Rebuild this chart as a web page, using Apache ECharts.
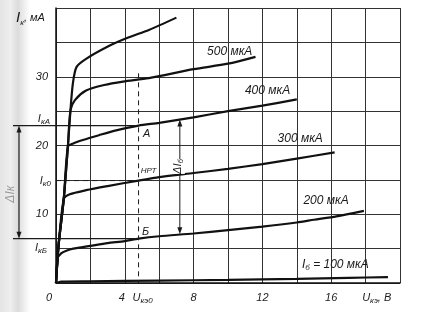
<!DOCTYPE html>
<html><head><meta charset="utf-8">
<script src="https://cdn.jsdelivr.net/npm/echarts@6/dist/echarts.min.js"></script>
<style>html,body{margin:0;padding:0;background:#fff}#c{width:429px;height:312px}</style>
</head><body><div id="c"></div>
<script>
// ---- data (U_кэ in V, I_к in mA) ----
const xTickLabels = [0, 4, 8, 12, 16];
const yTickLabels = [10, 20, 30];
const ib100 = [[0,0],[0.3,0.2],[2,0.25],[6,0.35],[10,0.45],[14,0.6],[17,0.75],[19.3,0.85]];
const ib200 = [[0,0],[0.1,3.6],[0.3,4.3],[0.6,4.7],[1,5.0],[2,5.4],[3,5.8],[4,6.1],[4.8,6.45],[6,6.8],[8,7.2],[10,7.7],[12,8.2],[14,8.8],[15,9.2],[16.3,9.7],[17.9,10.5]];
const ib300 = [[0,0],[0.15,5.5],[0.45,12.2],[0.8,12.9],[1.75,13.5],[3,14.1],[4.8,14.9],[6,15.4],[8,16],[10,16.6],[12,17.3],[14,18.1],[16.2,19.0]];
const ib400 = [[0,0],[0.15,5.5],[0.45,12.2],[0.69,19.8],[1,20.3],[1.56,20.8],[2.5,21.5],[3.5,22.2],[4.8,22.9],[6,23.3],[8,24.1],[10,25.0],[12,25.8],[14,26.7]];
const ib500 = [[0,0],[0.15,5.5],[0.45,12.2],[0.69,19.8],[0.84,25.1],[1.1,26.6],[1.75,28],[2.8,28.8],[3.9,29.3],[5.4,29.8],[8,31.1],[10,31.9],[11.6,32.9]];
const ib600 = [[0,0],[0.15,5.5],[0.45,12.2],[0.69,19.8],[0.84,25.1],[0.98,29],[1.19,31.4],[1.75,32.6],[3.1,34.5],[4.2,35.7],[5.4,36.8],[7,38.6]];
const curveLabels = ['200 мкА','300 мкА','400 мкА','500 мкА'];
// operating point and swing
const Uk0 = 4.8, IkA = 22.9, Ik0 = 14.9, IkB = 6.45;
const dIbU = 7.2, dIbTop = 23.8, dIbBot = 7.1;

const FONT = '"Liberation Sans", "DejaVu Sans", sans-serif';
const chart = echarts.init(document.getElementById('c'), null, {renderer:'canvas'});
const lineSeries = (d) => ({type:'line', data:d, symbol:'none', smooth:0.25, lineStyle:{color:'#111', width:2.2}, z:5, silent:true, animation:false});
chart.setOption({
  animation:false,
  backgroundColor:'#fff',
  grid:{left:56, top:8, width:344, height:275},
  xAxis:{type:'value', min:0, max:20, interval:2,
    axisLine:{show:true, lineStyle:{color:'#111', width:1.5}},
    axisTick:{show:false},
    splitLine:{show:true, lineStyle:{color:'#333', width:1}},
    axisLabel:{margin:9, color:'#222', fontStyle:'italic', fontFamily:FONT, fontSize:11,
      formatter:v => xTickLabels.includes(v) ? (v===0 ? '{z|0}' : (v===4 ? '{f|4}' : String(v))) : '',
      rich:{z:{padding:[0,14,0,0], fontStyle:'italic', fontFamily:FONT, fontSize:11, color:'#222'},
            f:{padding:[0,6,0,0], fontStyle:'italic', fontFamily:FONT, fontSize:11, color:'#222'}}}},
  yAxis:{type:'value', min:0, max:40, interval:5,
    axisLine:{show:true, lineStyle:{color:'#111', width:1.5}},
    axisTick:{show:false},
    splitLine:{show:true, lineStyle:{color:'#333', width:1}},
    axisLabel:{margin:8, color:'#222', fontStyle:'italic', fontFamily:FONT, fontSize:11,
      formatter:v => yTickLabels.includes(v) ? String(v) : ''}},
  series:[lineSeries(ib100), lineSeries(ib200), lineSeries(ib300), lineSeries(ib400), lineSeries(ib500), lineSeries(ib600)]
});

const P = (u, i) => chart.convertToPixel({gridIndex:0}, [u, i]);
const g = [];
const txt = (x, y, rich, opts={}) => ({type:'text', z:20, silent:true, rotation:opts.rot||0, x:x, y:y,
  style:{text:rich, x:0, y:0, align:opts.align||'center', verticalAlign:'middle', textAlign:opts.align||'center', textVerticalAlign:'middle',
    fill:opts.fill||'#1a1a1a', backgroundColor:opts.bg, font:'italic '+(opts.size||11)+'px '+FONT,
    rich:{m:{fontSize:opts.size||11, fontStyle:'italic', fontFamily:FONT, fill:opts.fill||'#1a1a1a', lineHeight:14},
          s:{fontSize:8, fontStyle:'italic', fontFamily:FONT, fill:opts.fill||'#1a1a1a', verticalAlign:'bottom', lineHeight:14, padding:[4,0,0,0]}}}});
const seg = (a, b, w, dash) => ({type:'line', z:15, silent:true, shape:{x1:a[0], y1:a[1], x2:b[0], y2:b[1]}, style:{stroke:'#1a1a1a', lineWidth:w, lineDash:dash||null}});
const arrow = (x, y, up) => ({type:'polygon', z:16, silent:true, shape:{points: up ? [[x,y],[x-2.5,y+7],[x+2.5,y+7]] : [[x,y],[x-2.5,y-7],[x+2.5,y-7]]}, style:{fill:'#1a1a1a'}});

// scan shading on the left edge
g.push({type:'rect', z:0, silent:true, shape:{x:0, y:0, width:30, height:312},
  style:{fill:new echarts.graphic.LinearGradient(0,0,1,0,[{offset:0,color:'#e4e4e4'},{offset:0.35,color:'#eeeeee'},{offset:0.6,color:'#dcdcdc'},{offset:1,color:'#ffffff'}])}});

const pA = P(Uk0, IkA), p0 = P(Uk0, Ik0), pB = P(Uk0, IkB), origin = P(0, 0);
const xL = origin[0] - 43;
g.push(seg(P(Uk0, 30.5), P(Uk0, 0), 1, [5, 4]));
g.push(seg([xL, pA[1]], pA, 1.2));
g.push(seg([origin[0], p0[1]], p0, 1, [5, 4]));
g.push(seg([xL, pB[1]], pB, 1.2));
// ΔIк arrow on the left
const xa = origin[0] - 37;
g.push(seg([xa, pA[1] + 5], [xa, pB[1] - 5], 1.2));
g.push(arrow(xa, pA[1], true));
g.push(arrow(xa, pB[1], false));
// ΔIб arrow
const t = P(dIbU, dIbTop), b = P(dIbU, dIbBot);
g.push(seg([t[0], t[1] + 5], [b[0], b[1] - 5], 1));
g.push(arrow(t[0], t[1], true));
g.push(arrow(b[0], b[1], false));
const mid = P(dIbU, (dIbTop + dIbBot) / 2 + 1.5);
g.push(txt(mid[0] - 2, mid[1], '{m|Δ}{m|I}{s|б}', {rot:Math.PI/2, bg:'#fff'}));

// point labels
g.push(txt(pA[0] + 8, pA[1] + 8, '{m|А}'));
g.push(txt(p0[0] + 10, p0[1] - 10, 'НРТ', {size:8}));
g.push(txt(pB[0] + 7, pB[1] - 7, '{m|Б}'));

// left side labels
g.push(txt(origin[0] - 6, pA[1] - 7, '{m|I}{s|кА}', {align:'right'}));
g.push(txt(origin[0] - 5, p0[1], '{m|I}{s|к0}', {align:'right'}));
g.push(txt(origin[0] - 9, pB[1] + 9, '{m|I}{s|кБ}', {align:'right'}));
g.push(txt(11, (pA[1] + pB[1]) / 2 + 12, 'ΔIк', {rot:Math.PI/2, fill:'#9a9a9a', size:12}));

// axis titles
g.push(txt(16, P(0, 38.5)[1], '{b|I}{s|к}{m|, мА}', {align:'left'}));
g[g.length-1].style.rich.b = {fontSize:15, fontStyle:'italic', fontFamily:FONT, fill:'#1a1a1a', lineHeight:16};
g.push(txt(P(Uk0, 0)[0] - 6, origin[1] + 15, '{m|U}{s|кэ0}', {align:'left'}));
g.push(txt(P(17.8, 0)[0], origin[1] + 15, '{m|U}{s|кэ}{m|, В}', {align:'left'}));

// curve labels
const labPos = [[15.7, 12.0], [14.2, 21.0], [12.3, 28.0], [10.1, 33.7]];
curveLabels.forEach((s, k) => { const p = P(labPos[k][0], labPos[k][1]); g.push(txt(p[0], p[1], s, {size:12})); });
const p100 = P(14.3, 2.6);
g.push(txt(p100[0], p100[1], '{m|I}{s|б}{m| = 100 мкА}', {align:'left', size:12}));
g[g.length-1].style.rich.m.fontSize = 12;

chart.setOption({graphic:{elements:g}});
</script></body></html>
